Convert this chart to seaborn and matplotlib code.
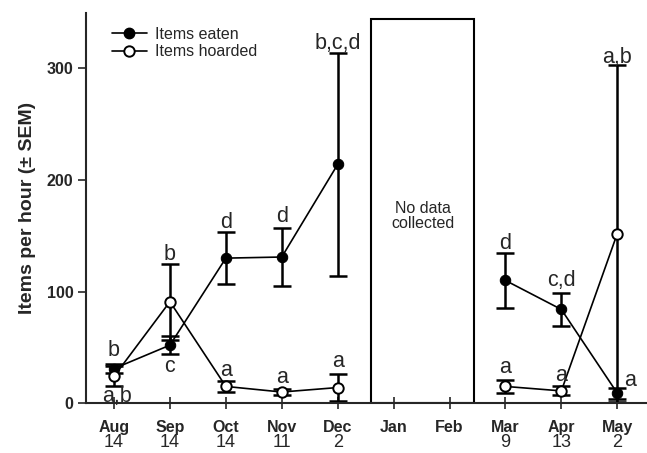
import numpy as np
import pandas as pd
import matplotlib
matplotlib.use("Agg")
import matplotlib.pyplot as plt
import matplotlib.transforms as mtransforms
from matplotlib.patches import Rectangle
from matplotlib.lines import Line2D
import seaborn as sns

# 데이터
months = ["Aug", "Sep", "Oct", "Nov", "Dec", "Jan", "Feb", "Mar", "Apr", "May"]
n_obs = ["14", "14", "14", "11", "2", "", "", "9", "13", "2"]
data_idx = [0, 1, 2, 3, 4, 7, 8, 9]
period = ["fall", "fall", "fall", "fall", "fall", "spring", "spring", "spring"]

eaten = [31, 52, 130, 131, 214, 110, 84, 9]
eaten_sem = [4, 8, 23, 26, 100, 25, 15, 5]
hoarded = [24, 91, 15, 10, 14, 15, 11, 152]
hoarded_sem = [9, 34, 5, 3, 12, 6, 4, 151]

eaten_labels = ["b", "c", "d", "d", "b,c,d", "d", "c,d", "a"]
eaten_label_y = [47, 33, 162, 167, 322, 143, 110, 20]
hoarded_labels = ["a,b", "b", "a", "a", "a", "a", "a", "a,b"]
hoarded_label_y = [6, 133, 29, 23, 37, 32, 25, 310]

df = pd.DataFrame({
    "x": data_idx * 2,
    "value": eaten + hoarded,
    "sem": eaten_sem + hoarded_sem,
    "series": ["Items eaten"] * 8 + ["Items hoarded"] * 8,
    "period": period * 2,
})

sns.set_style("ticks")
plt.rcParams["font.family"] = ["Liberation Sans", "DejaVu Sans"]

fig = plt.figure(figsize=(6.47, 4.53), dpi=100)
ax = fig.add_axes([0.133, 0.110, 0.866, 0.862])

# 오차 막대
for name in ["Items eaten", "Items hoarded"]:
    sub = df[df["series"] == name]
    ax.errorbar(sub["x"], sub["value"], yerr=sub["sem"], fmt="none",
                ecolor="black", elinewidth=1.8, capsize=6.5, capthick=1.8, zorder=2)

# 선 + 마커
sns.lineplot(data=df[df["series"] == "Items eaten"], x="x", y="value",
             units="period", estimator=None, color="black", linewidth=1.2,
             marker="o", markersize=7.5, markerfacecolor="black",
             markeredgecolor="black", ax=ax, zorder=3)
sns.lineplot(data=df[df["series"] == "Items hoarded"], x="x", y="value",
             units="period", estimator=None, color="black", linewidth=1.2,
             marker="o", markersize=7.5, markerfacecolor="white",
             markeredgecolor="black", markeredgewidth=1.4, ax=ax, zorder=4)

# 유의성 문자
for i, x in enumerate(data_idx):
    ex = x + (0.22 if months[x] == "May" else 0)
    ax.text(ex, eaten_label_y[i], eaten_labels[i], ha="center", va="center",
            fontsize=15.5, zorder=5)
    hx = x + (0.05 if months[x] == "Aug" else 0)
    ax.text(hx, hoarded_label_y[i], hoarded_labels[i], ha="center", va="center",
            fontsize=15.5, zorder=5)

# 데이터 없음 구간
ax.add_patch(Rectangle((4.6, 0), 1.83, 344, fill=False, edgecolor="black",
                       linewidth=1.5, zorder=1))
ax.text(5.52, 168, "No data\ncollected", ha="center", va="center", fontsize=11.5,
        linespacing=1.0)

ax.set_xlim(-0.5, 9.52)
ax.set_ylim(0, 350)
ax.set_xticks(range(len(months)))
ax.set_xticklabels(months, fontweight="bold", fontsize=11.5)
ax.set_yticks([0, 100, 200, 300])
ax.set_yticklabels(["0", "100", "200", "300"], fontweight="bold", fontsize=11.5)
ax.tick_params(axis="x", direction="inout", length=8, width=1.2, pad=8)
ax.tick_params(axis="y", direction="out", length=6, width=1.2, pad=3)
ax.set_xlabel("")
ax.set_ylabel("Items per hour (\u00b1 SEM)", fontweight="bold", fontsize=14, labelpad=8)
for s in ["top", "right"]:
    ax.spines[s].set_visible(False)
for s in ["left", "bottom"]:
    ax.spines[s].set_linewidth(1.5)

# 표본 수
trans = mtransforms.blended_transform_factory(ax.transData, fig.transFigure)
for i, n in enumerate(n_obs):
    if n:
        ax.text(i, 0.004, n, transform=trans, ha="center", va="bottom", fontsize=13)

handles = [
    Line2D([], [], color="black", linewidth=1.2, marker="o", markersize=7.5,
           markerfacecolor="black"),
    Line2D([], [], color="black", linewidth=1.2, marker="o", markersize=7.5,
           markerfacecolor="white", markeredgewidth=1.4),
]
ax.legend(handles, ["Items eaten", "Items hoarded"], loc="upper left",
          bbox_to_anchor=(0.02, 1.0), frameon=False, fontsize=11.5,
          handlelength=2.2, handletextpad=0.5, labelspacing=0.15)

fig.savefig("out.png", dpi=100)
